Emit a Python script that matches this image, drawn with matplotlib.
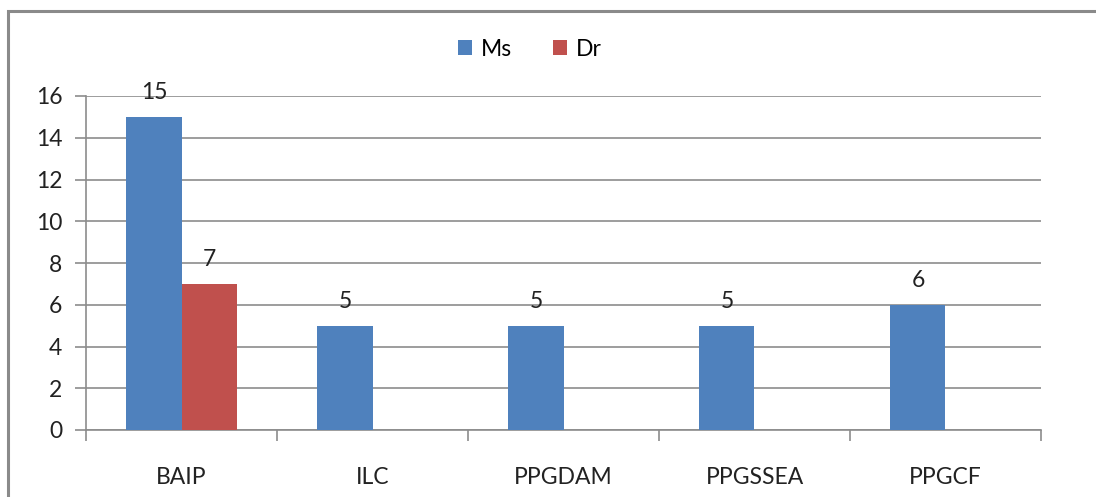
import matplotlib
matplotlib.use("Agg")
import matplotlib.pyplot as plt
import numpy as np
from matplotlib.patches import Rectangle

categories = ["BAIP", "ILC", "PPGDAM", "PPGSSEA", "PPGCF"]
ms_values = [15, 5, 5, 5, 6]
dr_values = [7, None, None, None, None]
series_names = ["Ms", "Dr"]
colors = ["#4F81BD", "#C0504D"]

plt.rcParams['font.family'] = ['Lato', 'DejaVu Sans']
FS = 16.5

W, H = 1096, 497
fig = plt.figure(figsize=(W/100, H/100), dpi=100)
ax = fig.add_axes([86/W, 1-430/H, (1041-86)/W, (430-96)/H])

x = np.arange(len(categories))
bw = 0.288
ms_bars = ax.bar(x - bw/2, ms_values, bw, color=colors[0], label=series_names[0], zorder=3)
dr_x = [xi + bw/2 for xi, v in zip(x, dr_values) if v is not None]
dr_v = [v for v in dr_values if v is not None]
dr_bars = ax.bar(dr_x, dr_v, bw, color=colors[1], label=series_names[1], zorder=3)

for bars in (ms_bars, dr_bars):
    for b in bars:
        h = b.get_height()
        ax.annotate(f"{h:g}", (b.get_x() + b.get_width()/2, h), xytext=(0, 10),
                    textcoords="offset points", ha="center", va="bottom", fontsize=FS, color="#222222")

ax.set_xlim(-0.5, len(categories) - 0.5)
ax.set_ylim(0, 16)
ax.set_yticks(range(0, 17, 2))
ax.yaxis.grid(True, color="#8c8c8c", linewidth=1.2, zorder=0)
ax.set_axisbelow(True)
ax.set_xticks(np.arange(-0.5, len(categories), 1.0))
ax.set_xticklabels([])
ax.set_xticks(x, minor=True)
ax.set_xticklabels(categories, minor=True)
ax.tick_params(axis='x', which='major', length=8, color="#8c8c8c", width=1.2)
ax.tick_params(axis='x', which='minor', length=0, pad=27, labelsize=FS, labelcolor="#222222")
ax.tick_params(axis='y', length=8, color="#8c8c8c", width=1.2, labelsize=FS, labelcolor="#222222", pad=9)
for s in ("top", "right"):
    ax.spines[s].set_visible(False)
for s in ("left", "bottom"):
    ax.spines[s].set_color("#8c8c8c")
    ax.spines[s].set_linewidth(1.2)

leg = fig.legend(handles=[ms_bars, dr_bars], labels=series_names, loc="center",
                 bbox_to_anchor=(530/W, 1-49/H), ncol=2, frameon=False, fontsize=FS,
                 handlelength=0.6, handleheight=0.6, handletextpad=0.4, columnspacing=1.8)

fig.patches.append(Rectangle((8/W, -0.1), 1.2, 1-11/H + 0.1, transform=fig.transFigure,
                             fill=False, edgecolor="#8a8a8a", linewidth=2.2))

fig.savefig("out.png", dpi=100)
